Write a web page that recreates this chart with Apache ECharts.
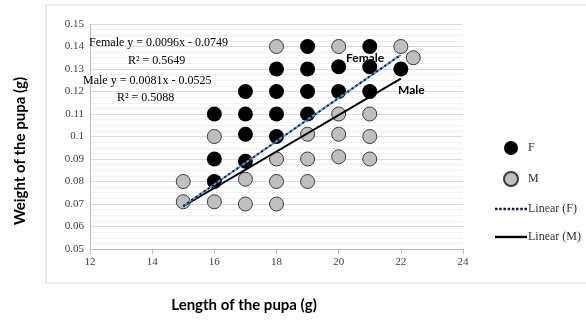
<!DOCTYPE html>
<html>
<head>
<meta charset="utf-8">
<script src="https://cdn.jsdelivr.net/npm/echarts@6/dist/echarts.min.js"></script>
<style>
  html, body { margin: 0; padding: 0; background: #fff; }
  #chart { width: 586px; height: 323px; }
</style>
</head>
<body>
<div id="chart"></div>
<script>
// female points [length, weight]
var femalePts = [
  [16, 0.11], [16, 0.09], [16, 0.08],
  [17, 0.12], [17, 0.11], [17, 0.101], [17, 0.089],
  [18, 0.13], [18, 0.12], [18, 0.11], [18, 0.1],
  [19, 0.14], [19, 0.13], [19, 0.12], [19, 0.11],
  [20, 0.131], [20, 0.12],
  [21, 0.14], [21, 0.131], [21, 0.12],
  [22, 0.13]
];
// male points
var malePts = [
  [15, 0.08], [15, 0.071],
  [16, 0.1], [16, 0.071],
  [17, 0.081], [17, 0.07],
  [18, 0.14], [18, 0.09], [18, 0.08], [18, 0.07],
  [19, 0.101], [19, 0.09], [19, 0.08],
  [20, 0.14], [20, 0.11], [20, 0.101], [20, 0.091],
  [21, 0.11], [21, 0.1], [21, 0.09],
  [22, 0.14], [22.4, 0.135]
];
// trend line ends (from the equations)
var femaleLine = [[15, 0.0691], [22, 0.1363]];
var maleLine = [[15, 0.069], [22, 0.1257]];

var eqTexts = [
  'Female y = 0.0096x - 0.0749',
  'R² = 0.5649',
  'Male y = 0.0081x - 0.0525',
  'R² = 0.5088'
];

var serif = '"Liberation Serif", "DejaVu Serif", serif';
var chart = echarts.init(document.getElementById('chart'));

function txt(x, y, s, font) {
  return { type: 'text', x: x, y: y, z: 100,
    style: { text: s, font: font, fill: '#000', textVerticalAlign: 'middle' } };
}

// legend icons for the trend lines
var dotIcon = 'path://';
for (var i = 0; i < 8; i++) dotIcon += 'M' + (i * 4) + ' 0h2.4v2.4h-2.4z';
var lineIcon = 'path://M0 0h32v2.4h-32z';

var option = {
  animation: false,
  grid: { left: 90, right: 123, top: 24, bottom: 74 },
  xAxis: {
    type: 'value',
    min: 12, max: 24, interval: 2,
    axisLine: { lineStyle: { color: '#bfbfbf' } },
    axisTick: { show: true, lineStyle: { color: '#bfbfbf' } },
    axisLabel: { color: '#404040', fontFamily: serif, fontSize: 11, margin: 8 },
    splitLine: { show: false }
  },
  yAxis: {
    type: 'value',
    min: 0.05, max: 0.15, interval: 0.01,
    axisLine: { show: true, lineStyle: { color: '#bfbfbf' } },
    axisTick: { show: false },
    axisLabel: {
      color: '#404040', fontFamily: serif, fontSize: 11, margin: 6,
      formatter: function (v) { return String(+v.toFixed(2)); }
    },
    splitLine: { lineStyle: { color: '#d9d9d9' } },
    minorTick: { show: false, splitNumber: 4 },
    minorSplitLine: { show: true, lineStyle: { color: '#f0f0f0' } }
  },
  legend: {
    orient: 'vertical',
    left: 490, top: 136,
    itemWidth: 32, itemHeight: 14, itemGap: 16,
    textStyle: { fontFamily: serif, fontSize: 12, color: '#333', padding: [0, 0, 0, -4] },
    data: [
      { name: 'F', icon: 'circle' },
      { name: 'M', icon: 'circle' },
      { name: 'Linear (F)', icon: dotIcon },
      { name: 'Linear (M)', icon: lineIcon }
    ]
  },
  graphic: [
    { type: 'rect', shape: { x: 46, y: 5, width: 560, height: 278 }, style: { fill: 'none', stroke: '#d9d9d9', lineWidth: 1 }, z: -1 },
    txt(89, 43, eqTexts[0], '12px ' + serif),
    txt(128, 61, eqTexts[1], '12px ' + serif),
    txt(83, 81, eqTexts[2], '12px ' + serif),
    txt(117, 98, eqTexts[3], '12px ' + serif),
    txt(346, 58, 'Female', 'bold 12px Lato'),
    txt(398, 90, 'Male', 'bold 12px Lato'),
    { type: 'text', x: 244, y: 305, z: 100,
      style: { text: 'Length of the pupa (g)', font: 'bold 15px Lato', fill: '#000', textAlign: 'center', textVerticalAlign: 'middle' } },
    { type: 'text', x: 20, y: 151, rotation: Math.PI / 2, z: 100,
      style: { text: 'Weight of the pupa (g)', font: 'bold 15px Lato', fill: '#000', textAlign: 'center', textVerticalAlign: 'middle' } }
  ],
  series: [
    {
      name: 'M', type: 'scatter', data: malePts, symbolSize: 14,
      itemStyle: { color: '#bfbfbf', borderColor: '#3a3a3a', borderWidth: 1, opacity: 1 },
      z: 2
    },
    {
      name: 'F', type: 'scatter', data: femalePts, symbolSize: 15,
      itemStyle: { color: '#000', opacity: 1 },
      z: 3
    },
    {
      name: 'Linear (M)', type: 'line', data: maleLine, symbol: 'none',
      itemStyle: { color: '#000' },
      lineStyle: { color: '#000', width: 2 }, z: 4
    },
    {
      name: 'F blue', type: 'line', data: femaleLine, symbol: 'none',
      itemStyle: { color: '#5b9bd5' },
      lineStyle: { color: '#5b9bd5', width: 2 }, z: 5
    },
    {
      name: 'Linear (F)', type: 'line', data: femaleLine, symbol: 'none',
      itemStyle: { color: '#1a1a40' },
      lineStyle: { color: '#1a1a40', width: 2, type: [2, 3] }, z: 6
    }
  ]
};
chart.setOption(option);
</script>
</body>
</html>
